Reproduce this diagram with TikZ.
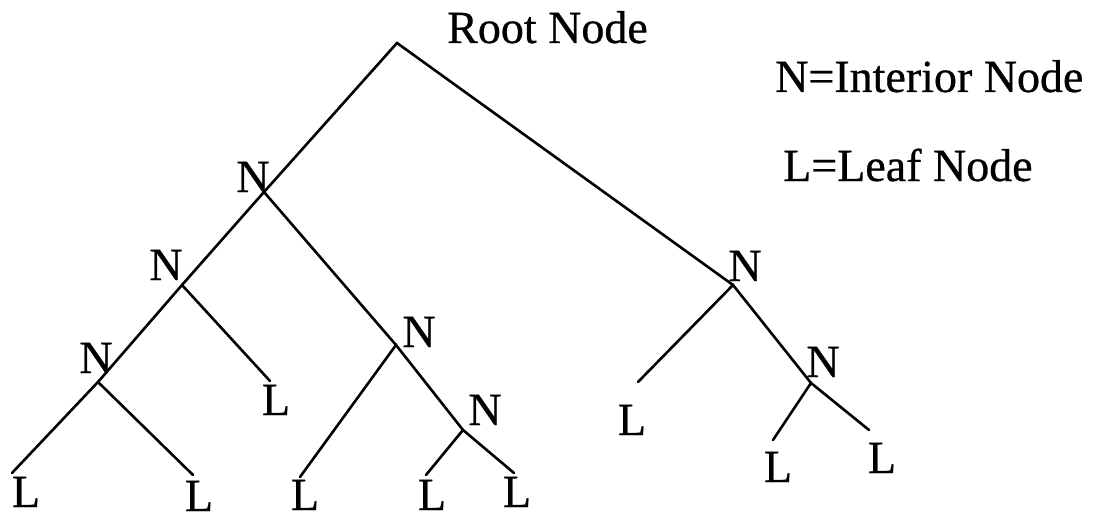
\documentclass[tikz,border=0pt]{standalone}
\usepackage{fontspec}
\setmainfont{Liberation Serif}[FakeBold=0.6]
\begin{document}
\begin{tikzpicture}[x=1pt,y=-1pt,
  edge/.style={line width=2.6pt,line cap=round,line join=miter},
  lbl/.style={inner sep=0pt,anchor=base,font=\fontsize{46}{50}\selectfont},
  legend/.style={inner sep=0pt,anchor=base west,font=\fontsize{46}{50}\selectfont}]
\useasboundingbox (0,0) rectangle (1101,519);

% branching points
\coordinate (r)  at (397,43);
\coordinate (j1) at (264,192);
\coordinate (j2) at (182,285);
\coordinate (j3) at (396,345);
\coordinate (j4) at (98,382);
\coordinate (j5) at (463,430);
\coordinate (j6) at (733,285);
\coordinate (j7) at (811,383);

% free ends of the leaf branches
\coordinate (e1) at (270,381);
\coordinate (e2) at (12,473);
\coordinate (e3) at (193,475);
\coordinate (e4) at (300,477);
\coordinate (e5) at (426,475);
\coordinate (e6) at (514,473);
\coordinate (e7) at (638,382);
\coordinate (e8) at (773,440);
\coordinate (e9) at (869,430);

% branches
\draw[edge] (j1) -- (r) -- (j6);
\draw[edge] (j2) -- (j1) -- (j3);
\draw[edge] (j4) -- (j2) -- (e1);
\draw[edge] (e2) -- (j4) -- (e3);
\draw[edge] (e4) -- (j3) -- (j5);
\draw[edge] (e5) -- (j5) -- (e6);
\draw[edge] (e7) -- (j6) -- (j7);
\draw[edge] (e8) -- (j7) -- (e9);

% interior node labels
\node[lbl] (n1) at (253,192) {N};
\node[lbl] (n2) at (166,280) {N};
\node[lbl] (n3) at (419,347) {N};
\node[lbl] (n4) at (96,373) {N};
\node[lbl] (n5) at (485,425) {N};
\node[lbl] (n6) at (745,281) {N};
\node[lbl] (n7) at (823,377) {N};

% leaf labels
\node[lbl] (l1) at (276,415) {L};
\node[lbl] (l2) at (26,507) {L};
\node[lbl] (l3) at (199,511) {L};
\node[lbl] (l4) at (305,510) {L};
\node[lbl] (l5) at (432,510) {L};
\node[lbl] (l6) at (517,507) {L};
\node[lbl] (l7) at (632,435) {L};
\node[lbl] (l8) at (778,482) {L};
\node[lbl] (l9) at (882,473) {L};

% titles and key
\node[legend] (root) at (447,43) {Root Node};
\node[legend] (keyn) at (775,92) {N=Interior Node};
\node[legend] (keyl) at (783,181) {L=Leaf Node};
\end{tikzpicture}
\end{document}
